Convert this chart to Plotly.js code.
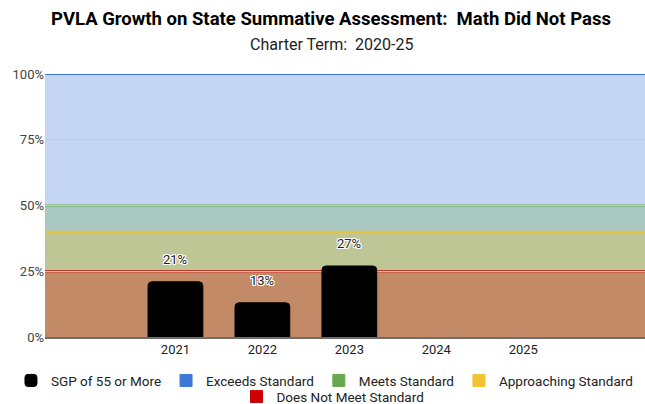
<!DOCTYPE html>
<html>
<head>
<meta charset="utf-8">
<script src="https://cdn.plot.ly/plotly-3.0.1.min.js"></script>
<style>html,body{margin:0;padding:0;background:#fff;}#chart{width:645px;height:404px;}</style>
</head>
<body>
<div id="chart"></div>
<script>
// ---- data ----
const years = [2021, 2022, 2023, 2024, 2025];
const yearLabels = ['2021', '2022', '2023', '2024', '2025'];
const sgp55 = [0.21, 0.13, 0.27, null, null];
const sgpLabels = ['21%', '13%', '27%', null, null];

const bandNames = ['Exceeds Standard', 'Meets Standard', 'Approaching Standard', 'Does Not Meet Standard'];
const bandTops = [1.00, 0.50, 0.40, 0.25];
const bandColors = ['#3c78d8', '#6aa84f', '#f1c232', '#cc0000'];

const yTickVals = [0, 0.25, 0.5, 0.75, 1];
const yTickText = ['0%', '25%', '50%', '75%', '100%'];

const titleText = 'PVLA Growth on State Summative Assessment: &nbsp;Math Did Not Pass';
const subtitleText = 'Charter Term: &nbsp;2020-25';

function rgba(hex, a) {
  const n = parseInt(hex.slice(1), 16);
  return 'rgba(' + ((n >> 16) & 255) + ',' + ((n >> 8) & 255) + ',' + (n & 255) + ',' + a + ')';
}

const FONT = 'Roboto, "Open Sans", sans-serif';

const traces = [{
  type: 'bar',
  name: 'SGP of 55 or More',
  x: years,
  y: sgp55,
  width: 0.63,
  marker: {color: '#000000', cornerradius: 4, line: {width: 1, color: '#000000'}},
  hoverinfo: 'skip',
  legend: 'legend'
}];
bandNames.forEach((n, i) => {
  traces.push({
    type: 'bar', name: n, x: [null], y: [null],
    marker: {color: bandColors[i], line: {width: 1, color: bandColors[i]}},
    showlegend: true, hoverinfo: 'skip',
    legend: i === bandNames.length - 1 ? 'legend2' : 'legend'
  });
});

const shapes = [];
bandTops.forEach((t, i) => {
  shapes.push({type: 'rect', xref: 'paper', yref: 'y', x0: 0, x1: 1, y0: 0, y1: t,
    fillcolor: rgba(bandColors[i], 0.3), line: {width: 0}, layer: 'between'});
});
bandTops.forEach((t, i) => {
  shapes.push({type: 'line', xref: 'paper', yref: 'y', x0: 0, x1: 1, y0: t, y1: t,
    line: {color: bandColors[i], width: 2}, layer: 'between'});
});

const halo = '-1px -1px 0 #fff, 1px -1px 0 #fff, -1px 1px 0 #fff, 1px 1px 0 #fff, 0 1px 0 #fff, 0 -1px 0 #fff, 1px 0 0 #fff, -1px 0 0 #fff';
const annotations = [];
years.forEach((yr, i) => {
  if (sgp55[i] == null) return;
  annotations.push({
    x: yr, y: sgp55[i], xref: 'x', yref: 'y', text: sgpLabels[i], showarrow: false,
    yanchor: 'middle', yshift: 22,
    font: {family: FONT, size: 13, color: '#222', shadow: halo}
  });
});
// title + subtitle
annotations.push({
  xref: 'paper', yref: 'paper', x: 0.476, y: 1.209, xanchor: 'center', yanchor: 'middle',
  text: '<b>' + titleText + '</b>', showarrow: false,
  font: {family: FONT, size: 18.5, color: '#000'}
});
annotations.push({
  xref: 'paper', yref: 'paper', x: 0.478, y: 1.114, xanchor: 'center', yanchor: 'middle',
  text: subtitleText, showarrow: false,
  font: {family: FONT, size: 16, color: '#222'}
});

const legendFont = {family: FONT, size: 13.5, color: '#222'};

const layout = {
  width: 645, height: 404,
  margin: {l: 45, r: 0, t: 74, b: 67, autoexpand: false},
  paper_bgcolor: '#ffffff', plot_bgcolor: '#ffffff',
  font: {family: FONT, size: 13, color: '#222'},
  xaxis: {
    range: [2019.5, 2026.4], tickvals: years, ticktext: yearLabels,
    showgrid: false, zeroline: false, showline: true, linecolor: '#6d6d6d', linewidth: 1.5,
    ticks: '', tickangle: 0, tickfont: {family: FONT, size: 13, color: '#222'}, fixedrange: true
  },
  yaxis: {
    range: [0, 1], tickvals: yTickVals, ticktext: yTickText,
    showgrid: true, gridcolor: '#cccccc', gridwidth: 1, zeroline: false, showline: false,
    ticks: '', ticklen: 0, tickfont: {family: FONT, size: 13, color: '#444'}, fixedrange: true
  },
  showlegend: true,
  legend: {
    orientation: 'h', x: -0.0567, xanchor: 'left', y: -0.107, yanchor: 'top',
    traceorder: 'normal', font: legendFont,
    itemwidth: 30, tracegroupgap: 0, bgcolor: 'rgba(0,0,0,0)'
  },
  legend2: {
    orientation: 'h', x: 0.48, xanchor: 'center', y: -0.168, yanchor: 'top',
    traceorder: 'normal', font: legendFont,
    itemwidth: 30, tracegroupgap: 0, bgcolor: 'rgba(0,0,0,0)'
  },
  shapes: shapes,
  annotations: annotations
};

Plotly.newPlot('chart', traces, layout, {displayModeBar: false, staticPlot: true});
</script>
</body>
</html>
